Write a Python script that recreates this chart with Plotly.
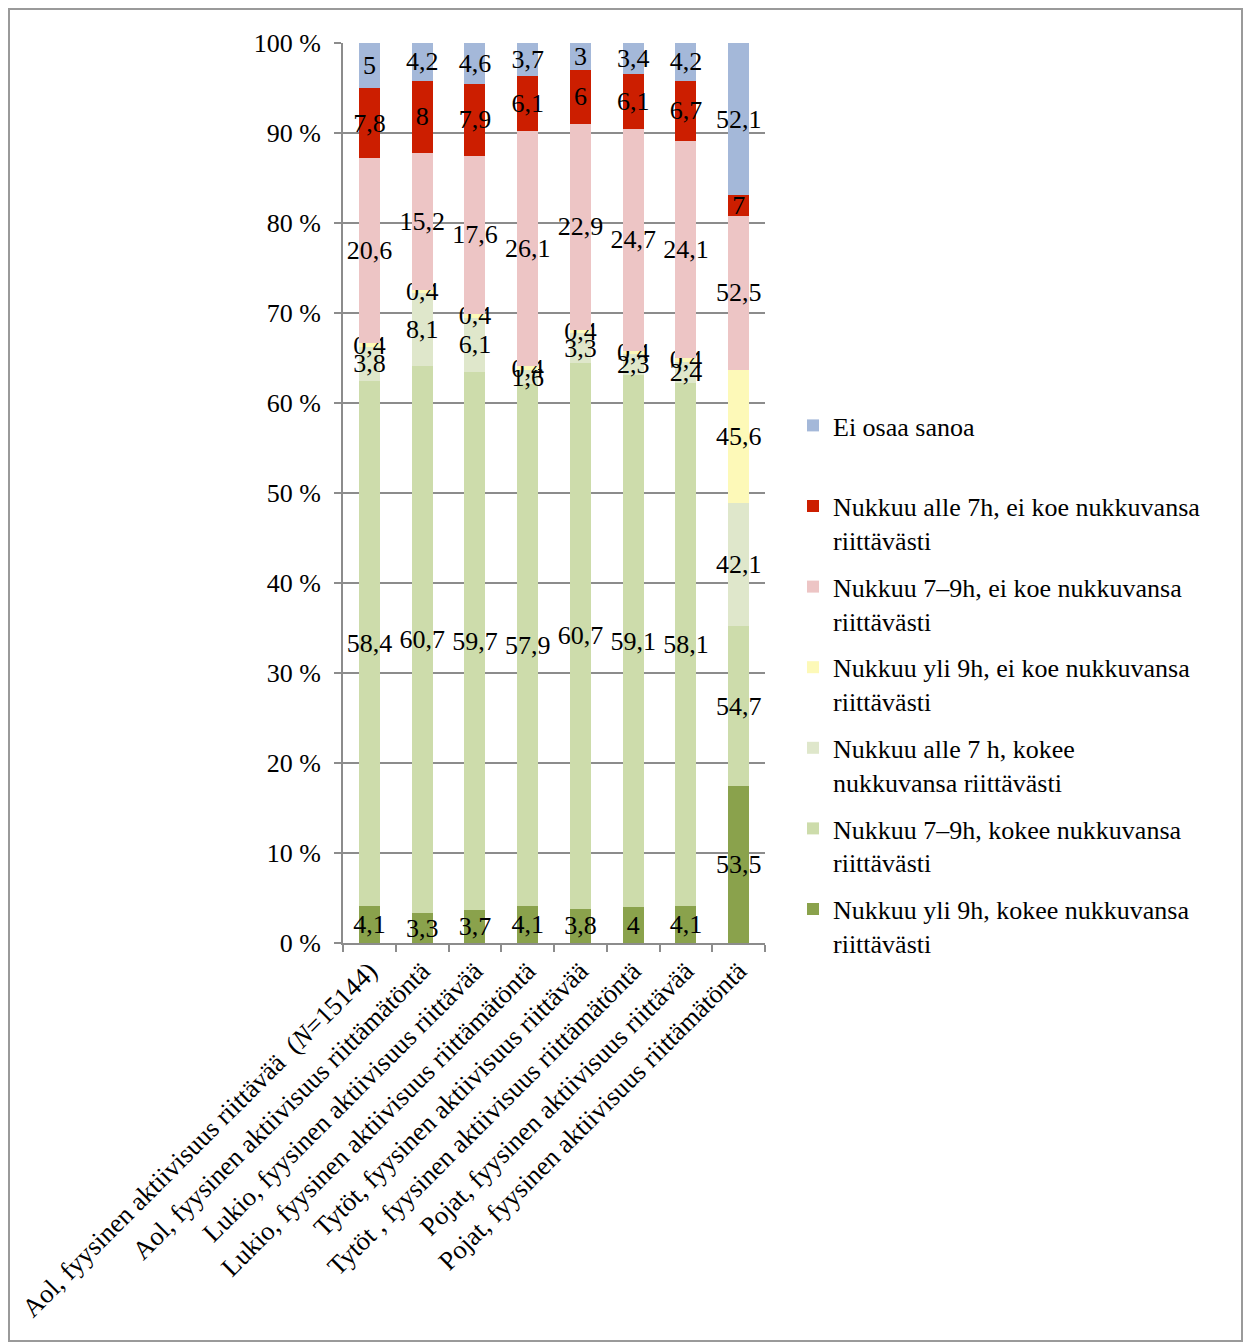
import plotly.graph_objects as go

# Group labels along the x axis
categories = [
    "Aol, fyysinen aktiivisuus riittävää \u00a0(<i>N</i>=15144)",
    "Aol, fyysinen aktiivisuus riittämätöntä",
    "Lukio, fyysinen aktiivisuus riittävää",
    "Lukio, fyysinen aktiivisuus riittämätöntä",
    "Tytöt, fyysinen aktiivisuus riittävää",
    "Tytöt , fyysinen aktiivisuus riittämätöntä",
    "Pojat, fyysinen aktiivisuus riittävää",
    "Pojat, fyysinen aktiivisuus riittämätöntä",
]

# Series values, stacked from the bottom up
yli9_kokee = [4.1, 3.3, 3.7, 4.1, 3.8, 4, 4.1, 53.5]
v7_9_kokee = [58.4, 60.7, 59.7, 57.9, 60.7, 59.1, 58.1, 54.7]
alle7_kokee = [3.8, 8.1, 6.1, 1.6, 3.3, 2.3, 2.4, 42.1]
yli9_ei = [0.4, 0.4, 0.4, 0.4, 0.4, 0.4, 0.4, 45.6]
v7_9_ei = [20.6, 15.2, 17.6, 26.1, 22.9, 24.7, 24.1, 52.5]
alle7_ei = [7.8, 8, 7.9, 6.1, 6, 6.1, 6.7, 7]
ei_osaa = [5, 4.2, 4.6, 3.7, 3, 3.4, 4.2, 52.1]

series = [
    ("Nukkuu yli 9h, kokee nukkuvansa<br>riittävästi", yli9_kokee, "#8AA24C"),
    ("Nukkuu 7–9h, kokee nukkuvansa<br>riittävästi", v7_9_kokee, "#CDDCAB"),
    ("Nukkuu alle 7 h, kokee<br>nukkuvansa riittävästi", alle7_kokee, "#DFE7CB"),
    ("Nukkuu yli 9h, ei koe nukkuvansa<br>riittävästi", yli9_ei, "#FDF9B8"),
    ("Nukkuu 7–9h, ei koe nukkuvansa<br>riittävästi", v7_9_ei, "#EDC5C5"),
    ("Nukkuu alle 7h, ei koe nukkuvansa<br>riittävästi", alle7_ei, "#CC1E00"),
    ("Ei osaa sanoa<br>\u00a0", ei_osaa, "#A4B8D9"),
]

FONT = "Liberation Serif, Times New Roman, serif"

fig = go.Figure()
n = len(series)
for i, (name, vals, color) in enumerate(series):
    fig.add_trace(go.Bar(
        x=categories,
        y=vals,
        name=name,
        legendgroup=f"g{i}",
        legendrank=(n - i) * 10,
        marker=dict(color=color, line=dict(width=0)),
        text=[f"{v:g}".replace(".", ",") for v in vals],
        textposition="inside",
        insidetextanchor="middle",
        constraintext="none",
        textangle=0,
        textfont=dict(family=FONT, size=26, color="black"),
        cliponaxis=False,
    ))

L, R, T, B = 343, 765, 43, 943
W, H = 1247, 1342
pw, ph = R - L, B - T

def px_x(p):
    return (p - L) / pw

def px_y(p):
    return (B - p) / ph

fig.update_layout(
    width=W,
    height=H,
    margin=dict(l=L, r=W - R, t=T, b=H - B, pad=0),
    barmode="stack",
    barnorm="percent",
    bargap=0.6,
    paper_bgcolor="white",
    plot_bgcolor="white",
    font=dict(family=FONT, size=26, color="black"),
    showlegend=True,
    legend=dict(
        x=px_x(793),
        y=px_y(402),
        xanchor="left",
        yanchor="top",
        traceorder="grouped",
        valign="top",
        tracegroupgap=10,
        font=dict(family=FONT, size=26, color="black"),
        bgcolor="rgba(0,0,0,0)",
    ),
    xaxis=dict(
        tickangle=-45,
        showline=True,
        linecolor="#8c8c8c",
        linewidth=2,
        ticks="outside",
        ticklen=7,
        tickcolor="#8c8c8c",
        tickwidth=2,
        tickson="boundaries",
        tickfont=dict(family=FONT, size=26.5, color="black"),
        showgrid=False,
    ),
    yaxis=dict(
        range=[0, 100],
        tick0=0,
        dtick=10,
        ticksuffix=" %",
        showline=True,
        linecolor="#8c8c8c",
        linewidth=2,
        ticks="outside",
        ticklen=7,
        tickcolor="#8c8c8c",
        tickwidth=2,
        ticklabelstandoff=8,
        showgrid=True,
        gridcolor="#8c8c8c",
        gridwidth=1.5,
        zeroline=False,
        tickfont=dict(family=FONT, size=26, color="black"),
    ),
    shapes=[
        dict(
            type="rect",
            xref="paper", yref="paper",
            x0=px_x(9), x1=px_x(1242),
            y0=px_y(1341), y1=px_y(9),
            line=dict(color="#9a9a9a", width=2),
            fillcolor="rgba(0,0,0,0)",
            layer="below",
        )
    ],
)

fig.write_html("out.html")
